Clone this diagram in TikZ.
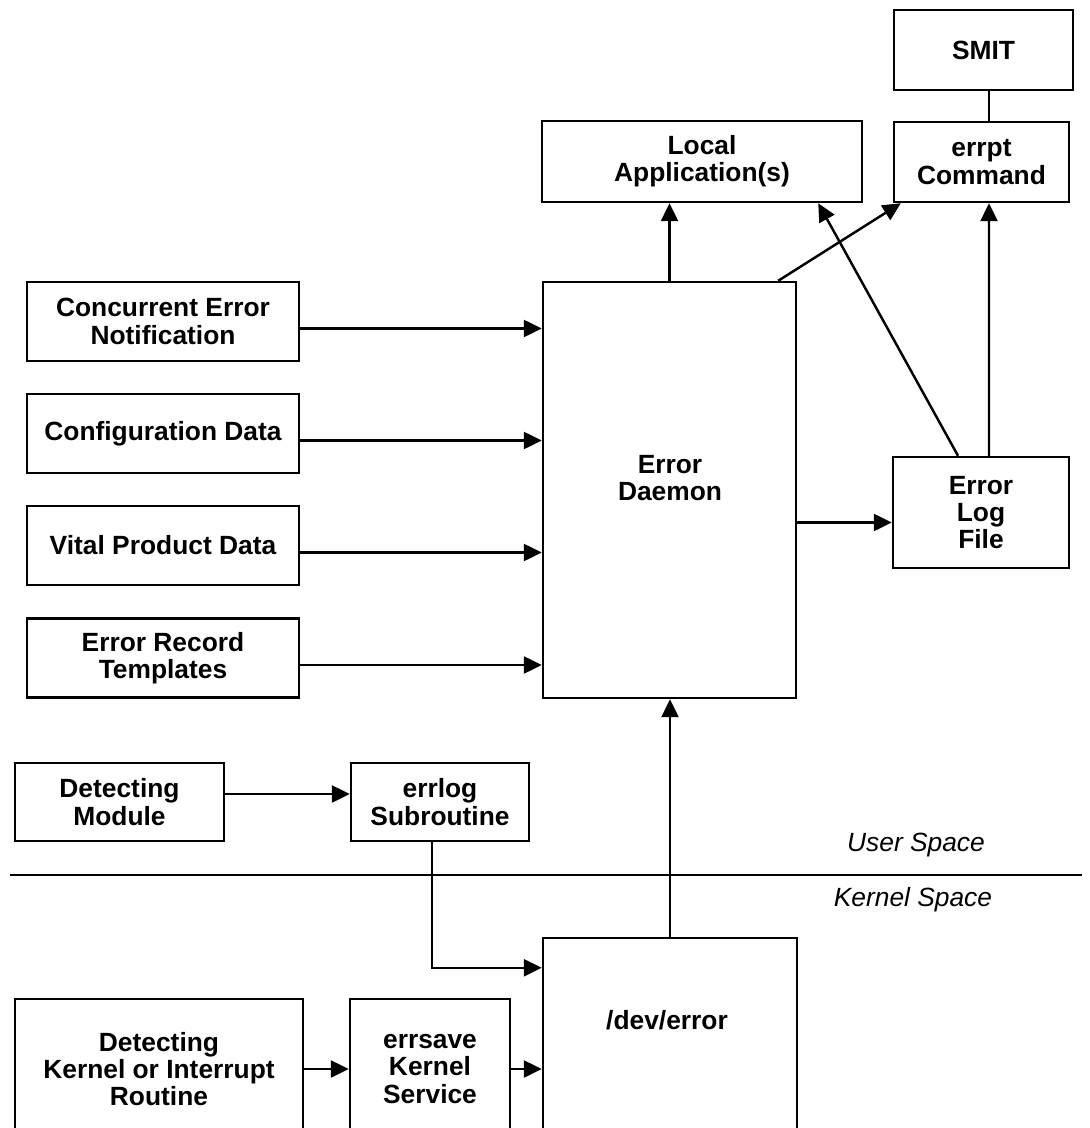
\documentclass[tikz,border=0pt]{standalone}
\usepackage{fontspec}
\setmainfont{Liberation Sans}
\usetikzlibrary{arrows.meta, positioning, calc}

\begin{document}
\begin{tikzpicture}[x=0.02cm, y=-0.02cm, line width=1.4pt,
    box/.style 2 args={rectangle, draw, inner sep=0pt, align=center,
        minimum width=#1*0.02cm, minimum height=#2*0.02cm,
        font=\fontsize{15}{15.5}\selectfont\bfseries},
    txt/.style={align=center, font=\fontsize{15}{15.5}\selectfont\bfseries},
    arr/.style={-{Triangle[length=0.36cm, width=0.34cm]}},
    space/.style={font=\fontsize{15}{15.5}\selectfont\itshape}]

    \clip (0,0) rectangle (1089,1128);

    % Top row
    \node[box={179}{80}] (smit) at (983.5,50) {SMIT};
    \node[box={175}{80}] (errpt) at (981.5,162) {errpt\\Command};
    \node[box={320}{81}] (local) at (702,161.5) {Local\\Application(s)};

    % Daemon and log file
    \node[box={253}{416}] (daemon) at (669.5,490) {};
    \node[txt] (daemontxt) at (670,478) {Error\\Daemon};
    \node[box={176}{111}] (log) at (981,512.5) {Error\\Log\\File};

    % Inputs on the left
    \node[box={272}{79}] (conc) at (163,321.5) {Concurrent Error\\Notification};
    \node[box={272}{79}] (config) at (163,433.5) {Configuration Data};
    \node[box={272}{79}] (vital) at (163,545.5) {Vital Product Data};
    \node[box={272}{79}] (templ) at (163,658) {Error Record\\Templates};

    % User space
    \node[box={209}{78}] (detmod) at (119.5,802) {Detecting\\Module};
    \node[box={178}{78}] (errlog) at (440,802) {errlog\\Subroutine};

    % Kernel space (boxes run off the bottom)
    \node[box={288}{140}] (detk) at (159,1069) {Detecting\\Kernel or Interrupt\\Routine};
    \node[box={160}{140}] (errsave) at (430,1069) {errsave\\Kernel\\Service};
    \node[box={254}{200}] (dev) at (670,1038) {};
    \node[txt] (devtxt) at (667,1020) {/dev/error};

    % Space divider
    \coordinate (sepL) at (10,875);
    \coordinate (sepR) at (1082,875);
    \draw (sepL) -- (sepR);
    \node[space] (user) at (916,845) {User Space};
    \node[space] (kernel) at (913,900) {Kernel Space};

    % Connectors
    \draw ($(smit.south)+(5.5,0)$) -- ($(errpt.north)+(7.5,0)$);
    \draw[arr] (daemon.north) -- (daemon.north |- local.south);
    \draw[arr] ($(daemon.north east)+(-19,0)$) -- ($(errpt.south west)+(8,0)$);
    \draw[arr] ($(log.north)+(-23,0)$) -- ($(local.south east)+(-45,0)$);
    \draw[arr] ($(log.north)+(8,0)$) -- ($(errpt.south)+(7.5,0)$);
    \draw[arr] ([yshift=-0.2cm]daemon.east |- log.west) -- ([yshift=-0.2cm]log.west);

    \foreach \n in {conc,config,vital,templ}
        \draw[arr] ([yshift=-0.14cm]\n.east) -- ([yshift=-0.14cm]\n.east -| daemon.west);

    \draw[arr] ([yshift=0.16cm]detmod.east) -- ([yshift=0.16cm]detmod.east -| errlog.west);
    \draw[arr] ($(errlog.south)+(-8,0)$) |- ($(dev.north west)+(0,31)$);
    \draw[arr] (detk.east) -- (errsave.west);
    \draw[arr] (errsave.east) -- (errsave.east -| dev.west);
    \draw[arr] (dev.north) -- (dev.north |- daemon.south);

\end{tikzpicture}
\end{document}
